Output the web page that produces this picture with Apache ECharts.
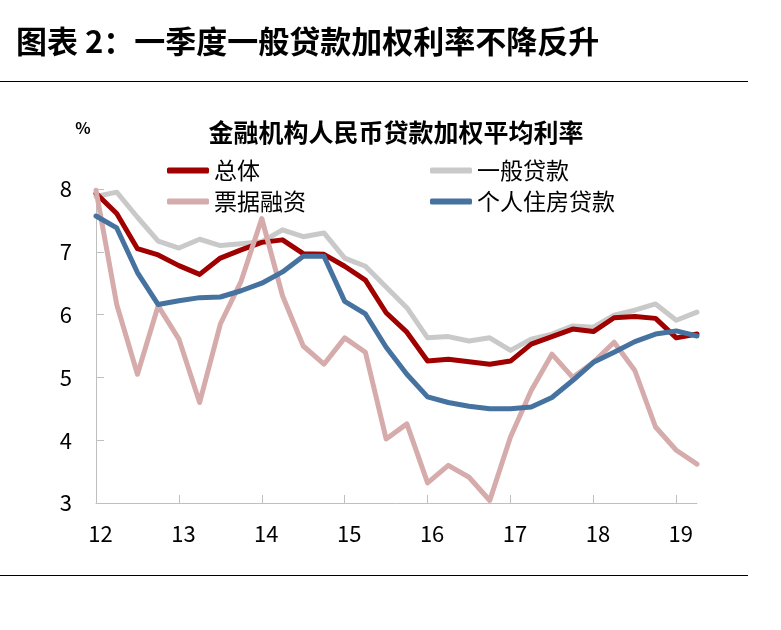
<!DOCTYPE html>
<html><head><meta charset="utf-8">
<script src="https://cdn.jsdelivr.net/npm/echarts@6/dist/echarts.min.js"></script>
<style>html,body{margin:0;padding:0;background:#fff}#c{width:781px;height:630px}</style>
</head><body><div id="c"></div>
<script>
const quarters = ['2011Q4','2012Q1','2012Q2','2012Q3','2012Q4','2013Q1','2013Q2','2013Q3','2013Q4','2014Q1','2014Q2','2014Q3','2014Q4','2015Q1','2015Q2','2015Q3','2015Q4','2016Q1','2016Q2','2016Q3','2016Q4','2017Q1','2017Q2','2017Q3','2017Q4','2018Q1','2018Q2','2018Q3','2018Q4','2019Q1'];
const yearLabels = ['12','13','14','15','16','17','18','19'];
const total = [7.93, 7.61, 7.05, 6.95, 6.78, 6.64, 6.90, 7.03, 7.15, 7.19, 6.97, 6.96, 6.77, 6.55, 6.03, 5.72, 5.26, 5.29, 5.25, 5.21, 5.26, 5.53, 5.65, 5.77, 5.73, 5.95, 5.97, 5.94, 5.63, 5.69];
const general = [7.88, 7.95, 7.55, 7.17, 7.06, 7.20, 7.10, 7.13, 7.16, 7.35, 7.24, 7.30, 6.90, 6.77, 6.44, 6.11, 5.63, 5.65, 5.58, 5.63, 5.43, 5.61, 5.69, 5.82, 5.80, 5.99, 6.07, 6.17, 5.91, 6.04];
const bill = [7.98, 6.16, 5.05, 6.14, 5.61, 4.60, 5.85, 6.53, 7.53, 6.30, 5.50, 5.21, 5.63, 5.40, 4.02, 4.26, 3.32, 3.60, 3.41, 3.04, 4.05, 4.79, 5.37, 5.00, 5.24, 5.56, 5.11, 4.21, 3.84, 3.62];
const mortgage = [7.57, 7.38, 6.67, 6.16, 6.22, 6.27, 6.28, 6.38, 6.50, 6.68, 6.93, 6.93, 6.21, 6.01, 5.48, 5.05, 4.69, 4.60, 4.54, 4.50, 4.50, 4.53, 4.68, 4.95, 5.24, 5.40, 5.57, 5.69, 5.74, 5.66];

const FONT = '"Noto Sans CJK SC", "Noto Sans", sans-serif';
const chart = echarts.init(document.getElementById('c'));
function mk(name, data, color, z) {
  return { name, type: 'line', data, symbol: 'none', z,
    lineStyle: { color, width: 5, cap: 'round', join: 'round' }, itemStyle: { color } };
}
chart.setOption({
  animation: false,
  backgroundColor: '#fff',
  textStyle: { fontFamily: FONT },
  grid: { left: 96, right: 84, top: 189, bottom: 127 },
  xAxis: {
    type: 'category', data: quarters, boundaryGap: false,
    axisLine: { lineStyle: { color: '#bfbfbf', width: 1 } },
    axisTick: { inside: true, length: 8, interval: 3, lineStyle: { color: '#bfbfbf' } },
    axisLabel: { interval: 3, color: '#000', fontSize: 22, fontFamily: FONT, margin: 20, padding: [0,0,0,9],
      formatter: (v, i) => yearLabels[Math.round(i / 4)] },
    splitLine: { show: false }
  },
  yAxis: {
    type: 'value', min: 3, max: 8, interval: 1,
    axisLine: { show: true, lineStyle: { color: '#bfbfbf', width: 1 } },
    axisTick: { show: true, inside: true, length: 8, lineStyle: { color: '#bfbfbf' } },
    axisLabel: { color: '#000', fontSize: 22, fontFamily: FONT, margin: 24 },
    splitLine: { show: false }
  },
  legend: [
    { data: ['总体', '票据融资'], orient: 'vertical', left: 162, top: 154, itemGap: 8,
      itemWidth: 42, itemHeight: 6, icon: 'roundRect',
      textStyle: { fontSize: 23, color: '#000', fontFamily: FONT } },
    { data: ['一般贷款', '个人住房贷款'], orient: 'vertical', left: 425, top: 154, itemGap: 8,
      itemWidth: 42, itemHeight: 6, icon: 'roundRect',
      textStyle: { fontSize: 23, color: '#000', fontFamily: FONT } }
  ],
  graphic: [
    { type: 'text', left: 16, top: 26, style: { text: '图表 2：一季度一般贷款加权利率不降反升', font: 'bold 31px ' + FONT, fill: '#000' } },
    { type: 'line', shape: { x1: 0, y1: 81.5, x2: 748, y2: 81.5 }, style: { stroke: '#000', lineWidth: 1 } },
    { type: 'line', shape: { x1: 0, y1: 575.5, x2: 748, y2: 575.5 }, style: { stroke: '#000', lineWidth: 1 } },
    { type: 'text', x: 396, y: 132, style: { text: '金融机构人民币贷款加权平均利率', font: 'bold 25px ' + FONT, fill: '#000', textAlign: 'center', textVerticalAlign: 'middle' } },
    { type: 'text', x: 83, y: 128, style: { text: '%', font: 'bold 16px ' + FONT, fill: '#000', textAlign: 'center', textVerticalAlign: 'middle' } }
  ],
  series: [
    mk('总体', total, '#a00000', 3),
    mk('一般贷款', general, '#c9c9c9', 2),
    mk('票据融资', bill, '#d6abab', 4),
    mk('个人住房贷款', mortgage, '#4672a0', 5)
  ]
});
</script>
</body></html>
